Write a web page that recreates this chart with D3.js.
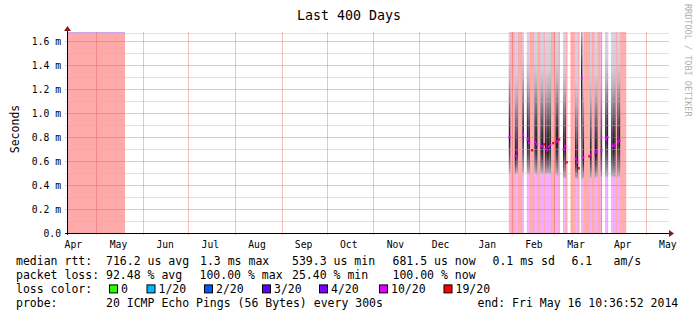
<!DOCTYPE html>
<html>
<head>
<meta charset="utf-8">
<script src="https://cdn.jsdelivr.net/npm/d3@7"></script>
<style>
  body { margin: 0; background: #fff; }
  svg { display: block; }
  text { font-family: "DejaVu Sans Mono", monospace; fill: #000; }
</style>
</head>
<body>
<svg id="chart" width="697" height="321"></svg>
<script>
// ---- data ----
const rangeStart = "2013-04-11T10:36:52Z";
const rangeEnd = "2014-05-16T10:36:52Z";
const yMaxMs = 1.677;

// full outage (100% loss) before measurements resumed
const outageSpans = [["2013-04-11T10:36:52Z", "2013-05-20T00:00:00Z"]];

// daily values starting at this day
const seriesStart = "2014-01-28T00:00:00Z";
// pings lost out of 20 (null = no data)
const lossCount = [
  null, null, 10, 20, 20, 20, 10, 10, 20, 20,
  20, 10, null, null, 10, 10, 20, 19, 20, 10,
  10, 20, 20, 10, 10, 19, 10, 10, 10, 10,
  20, 19, 20, 10, 10, 19, null, null, 10, 10,
  19, null, null, 20, 20, 20, 10, 10, 19, null,
  10, 10, 20, 20, 20, 19, 10, 20, 20, 10,
  10, 20, 20, 10, null, null, 10, 10, null, null,
  10, 10, 10, 20, 10, 10, 20, 20, 20, 20,
  null
];
// median rtt in ms
const medianMs = [
  null, null, 0.80, null, null, null, 0.64, 0.69, null, null,
  null, 0.82, null, null, 0.78, 0.75, null, 0.69, null, 0.76,
  0.74, null, null, 0.725, 0.72, 0.74, 0.70, 0.69, 0.72, 0.73,
  null, 0.75, null, 0.76, 0.77, 0.78, null, null, 0.70, 0.725,
  0.59, null, null, null, null, null, 0.62, 0.59, 0.54, null,
  1.29, 0.63, null, null, null, 0.64, 0.65, null, null, 0.67,
  0.68, null, null, 0.69, null, null, 0.78, 0.80, null, null,
  0.73, 0.725, 0.74, null, 0.76, 0.77, null, null, null, null,
  null
];
// fastest ping in ms
const minMs = [
  null, null, 0.50, null, null, null, 0.49, 0.50, null, null,
  null, 0.50, null, null, 0.50, 0.49, null, null, null, 0.50,
  0.49, null, null, 0.50, 0.50, null, 0.49, 0.50, 0.50, 0.49,
  null, null, null, 0.49, 0.48, null, null, null, 0.46, 0.46,
  null, null, null, null, null, null, 0.46, 0.45, null, null,
  0.45, 0.46, null, null, null, null, 0.46, null, null, 0.46,
  0.47, null, null, 0.47, null, null, 0.47, 0.47, null, null,
  0.47, 0.47, 0.47, null, 0.47, 0.47, null, null, null, null,
  null
];

const yTicks = [0, 0.2, 0.4, 0.6, 0.8, 1.0, 1.2, 1.4, 1.6];
const yMinorTicks = [0.1, 0.3, 0.5, 0.7, 0.9, 1.1, 1.3, 1.5];

const lossLabels = ["0", "1/20", "2/20", "3/20", "4/20", "10/20", "19/20"];
const lossColors = ["#26ff00", "#00b8ff", "#0059ff", "#5e00ff", "#7e00ff", "#dd00ff", "#ff0000"];
const lossThresholds = [0, 1, 2, 3, 4, 10, 19];

const rttRow = ["median rtt:", "716.2 us avg", "1.3 ms max", "539.3 us min", "681.5 us now", "0.1 ms sd", "6.1", "am/s"];
const lossRow = ["packet loss:", "92.48 % avg", "100.00 % max", "25.40 % min", "100.00 % now"];
const probeRow = ["probe:", "20 ICMP Echo Pings (56 Bytes) every 300s", "end: Fri May 16 10:36:52 2014"];

// ---- layout ----
const plot = { left: 67, right: 669, top: 32, bottom: 233 };
const rowX = [16, 106, 200, 292, 392.5, 492.5, 571.5, 613.5];
const lossRowX = [16, 106, 199.5, 292, 392.5];
const probeRowX = [16, 106, 477.5];
const swatchX = [109.5, 147, 204.5, 262.5, 319.5, 379.5, 444];
const rowY = [264.5, 278.7, 292.9, 307.1];

const svg = d3.select("#chart");

const x = d3.scaleUtc()
  .domain([new Date(rangeStart), new Date(rangeEnd)])
  .range([plot.left, plot.right]);

const y = d3.scaleLinear()
  .domain([0, yMaxMs])
  .range([plot.bottom, plot.top]);

function lossIndex(n) {
  let k = 0;
  lossThresholds.forEach((t, i) => { if (n >= t) k = i; });
  return k;
}

// ---- days table ----
const t0 = new Date(seriesStart);
const days = lossCount.map((loss, i) => ({
  from: d3.utcDay.offset(t0, i),
  to: d3.utcDay.offset(t0, i + 1),
  loss: loss,
  median: medianMs[i],
  min: minMs[i],
  i: i
}));

const gData = svg.append("g");

// outage background
gData.selectAll("rect.outage")
  .data(outageSpans)
  .join("rect")
  .attr("class", "outage")
  .attr("x", d => x(new Date(d[0])))
  .attr("width", d => x(new Date(d[1])) - x(new Date(d[0])))
  .attr("y", plot.top)
  .attr("height", plot.bottom - plot.top)
  .attr("fill", "#ff0000")
  .attr("fill-opacity", 0.333);

gData.selectAll("line.outageTop")
  .data(outageSpans)
  .join("line")
  .attr("x1", d => x(new Date(d[0])))
  .attr("x2", d => x(new Date(d[1])))
  .attr("y1", plot.top + 0.5)
  .attr("y2", plot.top + 0.5)
  .attr("stroke", "#c9a6ee")
  .attr("stroke-width", 1);

// loss background per day
const known = days.filter(d => d.loss !== null);
gData.selectAll("rect.lossbg")
  .data(known)
  .join("rect")
  .attr("x", d => x(d.from))
  .attr("width", d => x(d.to) - x(d.from))
  .attr("y", plot.top)
  .attr("height", plot.bottom - plot.top)
  .attr("fill", d => lossColors[lossIndex(d.loss)])
  .attr("fill-opacity", 0.333);

// smoke
const smoky = days.filter(d => d.loss !== null && d.loss < 19 && d.min !== null);
const defs = svg.append("defs");
smoky.forEach(d => {
  const span = yMaxMs - d.min;
  const off = v => Math.max(0, Math.min(1, (v - d.min) / span));
  const stops = [
    [d.min, "#b0b0b0"],
    [d.min + (d.median - d.min) * 0.45, "#5e5e5e"],
    [d.median - 0.02, "#1c1c1c"],
    [d.median + 0.1, "#303030"],
    [d.median + 0.28, "#6e6e6e"],
    [d.median + 0.48, "#b0b0b0"],
    [d.median + 0.65, "#d0d0d0"],
    [yMaxMs, "#d8d8d8"]
  ];
  const grad = defs.append("linearGradient")
    .attr("id", "smoke" + d.i)
    .attr("gradientUnits", "userSpaceOnUse")
    .attr("x1", 0).attr("x2", 0)
    .attr("y1", y(d.min)).attr("y2", y(yMaxMs));
  let last = 0;
  stops.forEach(s => {
    last = Math.max(last, off(s[0]));
    grad.append("stop").attr("offset", last).attr("stop-color", s[1]);
  });
});

gData.selectAll("rect.smoke")
  .data(smoky)
  .join("rect")
  .attr("x", d => x(d.from))
  .attr("width", d => x(d.to) - x(d.from))
  .attr("y", plot.top)
  .attr("height", d => y(d.min) - plot.top)
  .attr("fill", d => "url(#smoke" + d.i + ")");

// ---- grid (drawn over data like rrdtool) ----
const minorColor = "rgba(186,186,186,0.42)";
const majorColor = "rgba(224,80,80,0.36)";
const gGrid = svg.append("g");
gGrid.append("line")
  .attr("x1", plot.left).attr("x2", plot.right)
  .attr("y1", plot.top + 1.5).attr("y2", plot.top + 1.5)
  .attr("stroke", minorColor);

gGrid.selectAll("line.minor")
  .data(yMinorTicks)
  .join("line")
  .attr("x1", plot.left - 2).attr("x2", plot.right)
  .attr("y1", d => Math.round(y(d)) + 0.5)
  .attr("y2", d => Math.round(y(d)) + 0.5)
  .attr("stroke", minorColor);

gGrid.selectAll("line.major")
  .data(yTicks.filter(v => v > 0))
  .join("line")
  .attr("x1", plot.left - 2).attr("x2", plot.right)
  .attr("y1", d => Math.round(y(d)) + 0.5)
  .attr("y2", d => Math.round(y(d)) + 0.5)
  .attr("stroke", majorColor);

const monthStarts = d3.utcMonths(x.domain()[0], x.domain()[1]);
gGrid.selectAll("line.vmajor")
  .data(monthStarts)
  .join("line")
  .attr("x1", d => Math.round(x(d)) + 0.5)
  .attr("x2", d => Math.round(x(d)) + 0.5)
  .attr("y1", plot.top)
  .attr("y2", plot.bottom + 2)
  .attr("stroke", majorColor);

// ---- median marks ----
svg.append("g").selectAll("rect")
  .data(days.filter(d => d.median !== null))
  .join("rect")
  .attr("x", d => x(d.from) - 0.3)
  .attr("width", d => Math.max(2, x(d.to) - x(d.from) + 0.6))
  .attr("y", d => y(d.median) - 1.2)
  .attr("height", 2.4)
  .attr("fill", d => lossColors[lossIndex(d.loss)]);

// ---- axes ----
const gAxis = svg.append("g");
gAxis.append("line")
  .attr("x1", plot.left - 2).attr("x2", plot.right + 1)
  .attr("y1", plot.bottom + 0.5).attr("y2", plot.bottom + 0.5)
  .attr("stroke", "#000");
gAxis.append("line")
  .attr("x1", plot.left + 0.5).attr("x2", plot.left + 0.5)
  .attr("y1", plot.bottom + 2).attr("y2", plot.top - 3)
  .attr("stroke", "#000");
gAxis.append("path")
  .attr("d", `M${plot.right},${plot.bottom - 3} L${plot.right + 5},${plot.bottom + 0.5} L${plot.right},${plot.bottom + 4} Z`)
  .attr("fill", "#8b1a1a");
gAxis.append("path")
  .attr("d", `M${plot.left - 3},${plot.top - 1} L${plot.left + 0.5},${plot.top - 6} L${plot.left + 4},${plot.top - 1} Z`)
  .attr("fill", "#8b1a1a");

const fmtY = v => v === 0 ? "0.0" : d3.format(".1f")(v) + " m";
svg.append("g").selectAll("text")
  .data(yTicks)
  .join("text")
  .attr("x", 61)
  .attr("y", d => Math.round(y(d)) + 4)
  .attr("text-anchor", "end")
  .attr("font-size", 9.7)
  .text(fmtY);

const labelMonths = d3.utcMonths(d3.utcMonth.floor(x.domain()[0]), x.domain()[1])
  .map(m => ({ m: m, at: d3.utcDay.offset(m, 15) }))
  .filter(d => d.at >= x.domain()[0] && d.at <= x.domain()[1]);
svg.append("g").selectAll("text")
  .data(labelMonths)
  .join("text")
  .attr("x", d => x(d.at) - 0.5)
  .attr("y", 247.5)
  .attr("text-anchor", "middle")
  .attr("font-size", 9.7)
  .text(d => d3.utcFormat("%b")(d.m));

// ---- titles ----
svg.append("text")
  .attr("x", 349).attr("y", 20)
  .attr("text-anchor", "middle")
  .attr("font-size", 13.3)
  .text("Last 400 Days");

svg.append("text")
  .attr("transform", "translate(19,129) rotate(-90)")
  .attr("text-anchor", "middle")
  .attr("font-size", 11.5)
  .text("Seconds");

svg.append("text")
  .attr("transform", "translate(684.5,4) rotate(90)")
  .attr("font-size", 8.5)
  .style("fill", "#b0b0b0")
  .text("RRDTOOL / TOBI OETIKER");

// ---- legend ----
const gLeg = svg.append("g").attr("font-size", 11.5);
function legendRow(items, xs, yy) {
  gLeg.append("g").selectAll("text")
    .data(items)
    .join("text")
    .attr("x", (d, i) => xs[i])
    .attr("y", yy)
    .style("white-space", "pre")
    .text(d => d);
}
legendRow(rttRow, rowX, rowY[0]);
legendRow(lossRow, lossRowX, rowY[1]);
legendRow(["loss color:"], [16], rowY[2]);
legendRow(probeRow, probeRowX, rowY[3]);

const sw = gLeg.append("g").selectAll("g")
  .data(lossLabels)
  .join("g");
sw.append("rect")
  .attr("x", (d, i) => swatchX[i])
  .attr("y", rowY[2] - 8)
  .attr("width", 8).attr("height", 8)
  .attr("fill", (d, i) => lossColors[i])
  .attr("stroke", "#000")
  .attr("stroke-width", 1);
sw.append("text")
  .attr("x", (d, i) => swatchX[i] + 11.5)
  .attr("y", rowY[2])
  .text(d => d);
</script>
</body>
</html>
